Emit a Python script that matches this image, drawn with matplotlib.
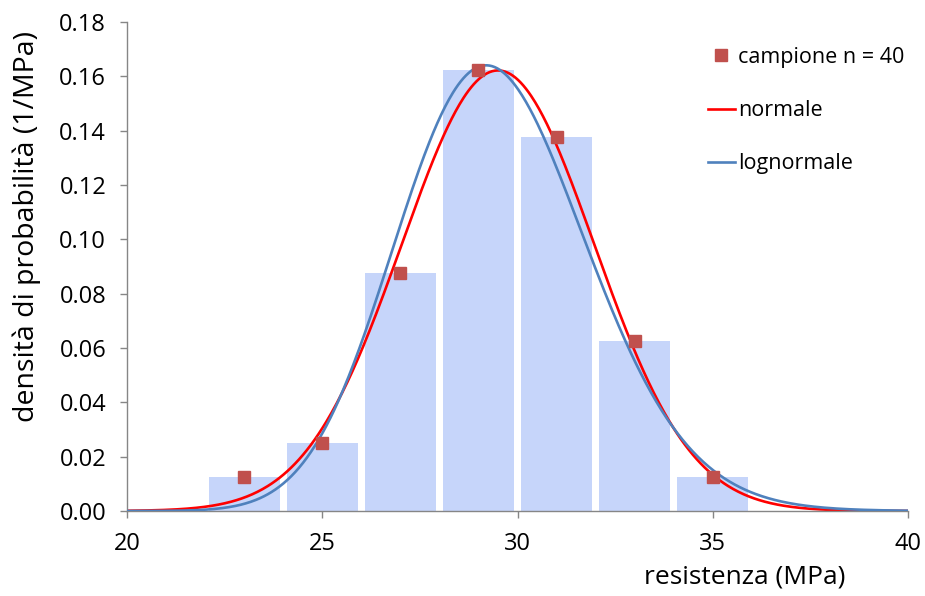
import numpy as np
import matplotlib.pyplot as plt

plt.rcParams["font.family"] = ["Open Sans", "DejaVu Sans"]

# histogram of the 40 strength results (class width 2 MPa)
class_centers = [23, 25, 27, 29, 31, 33, 35]
class_counts = [1, 2, 7, 13, 11, 5, 1]
n_sample = 40
class_width = 2.0
density = [c / (n_sample * class_width) for c in class_counts]

# fitted distributions
mu_norm, sd_norm = 29.5, 2.46
s_log = 0.083
m_log = np.log(29.5) - s_log ** 2 / 2

x = np.linspace(20, 40, 600)
pdf_norm = np.exp(-0.5 * ((x - mu_norm) / sd_norm) ** 2) / (sd_norm * np.sqrt(2 * np.pi))
pdf_log = np.exp(-0.5 * ((np.log(x) - m_log) / s_log) ** 2) / (x * s_log * np.sqrt(2 * np.pi))

fig = plt.figure(figsize=(9.25, 5.96), dpi=100)
ax = fig.add_axes([127 / 925, 1 - 511 / 596, 781 / 925, 489 / 596])

ax.bar(class_centers, density, width=1.82, color="#c6d5fa", zorder=1)
ax.plot(x, pdf_norm, color="#ff0000", lw=1.9, zorder=2, label="normale")
ax.plot(x, pdf_log, color="#4f81bd", lw=1.9, zorder=3, label="lognormale")
ax.plot(class_centers, density, "s", color="#c0504d", ms=8.5, zorder=4,
        label="campione n = 40")

ax.set_xlim(20, 40)
ax.set_ylim(0, 0.18)
ax.set_xticks([20, 25, 30, 35, 40])
ax.set_yticks(np.arange(0, 0.181, 0.02))
ax.yaxis.set_major_formatter(plt.FormatStrFormatter("%.2f"))

for side in ["top", "right"]:
    ax.spines[side].set_visible(False)
for side in ["left", "bottom"]:
    ax.spines[side].set_color("#868686")
    ax.spines[side].set_linewidth(1.0)
ax.tick_params(axis="both", colors="#868686", labelcolor="black",
               labelsize=17, length=5, width=1.0)
ax.tick_params(axis="y", pad=10)
ax.tick_params(axis="x", pad=10)

fig.text(27 / 925, 1 - 226 / 596, "densità di probabilità (1/MPa)",
         rotation=90, ha="center", va="center", fontsize=20.5)
fig.text(745 / 925, 1 - 577 / 596, "resistenza (MPa)",
         ha="center", va="center", fontsize=19)

handles, labels = ax.get_legend_handles_labels()
order = [2, 0, 1]
ax.legend([handles[i] for i in order], [labels[i] for i in order],
          loc="upper left", bbox_to_anchor=(697 / 925, 1 - 36 / 596),
          bbox_transform=fig.transFigure, frameon=False, fontsize=15.5,
          borderpad=0, labelspacing=1.5, handlelength=1.25,
          handletextpad=0.15)

plt.savefig("out.png", dpi=100)
